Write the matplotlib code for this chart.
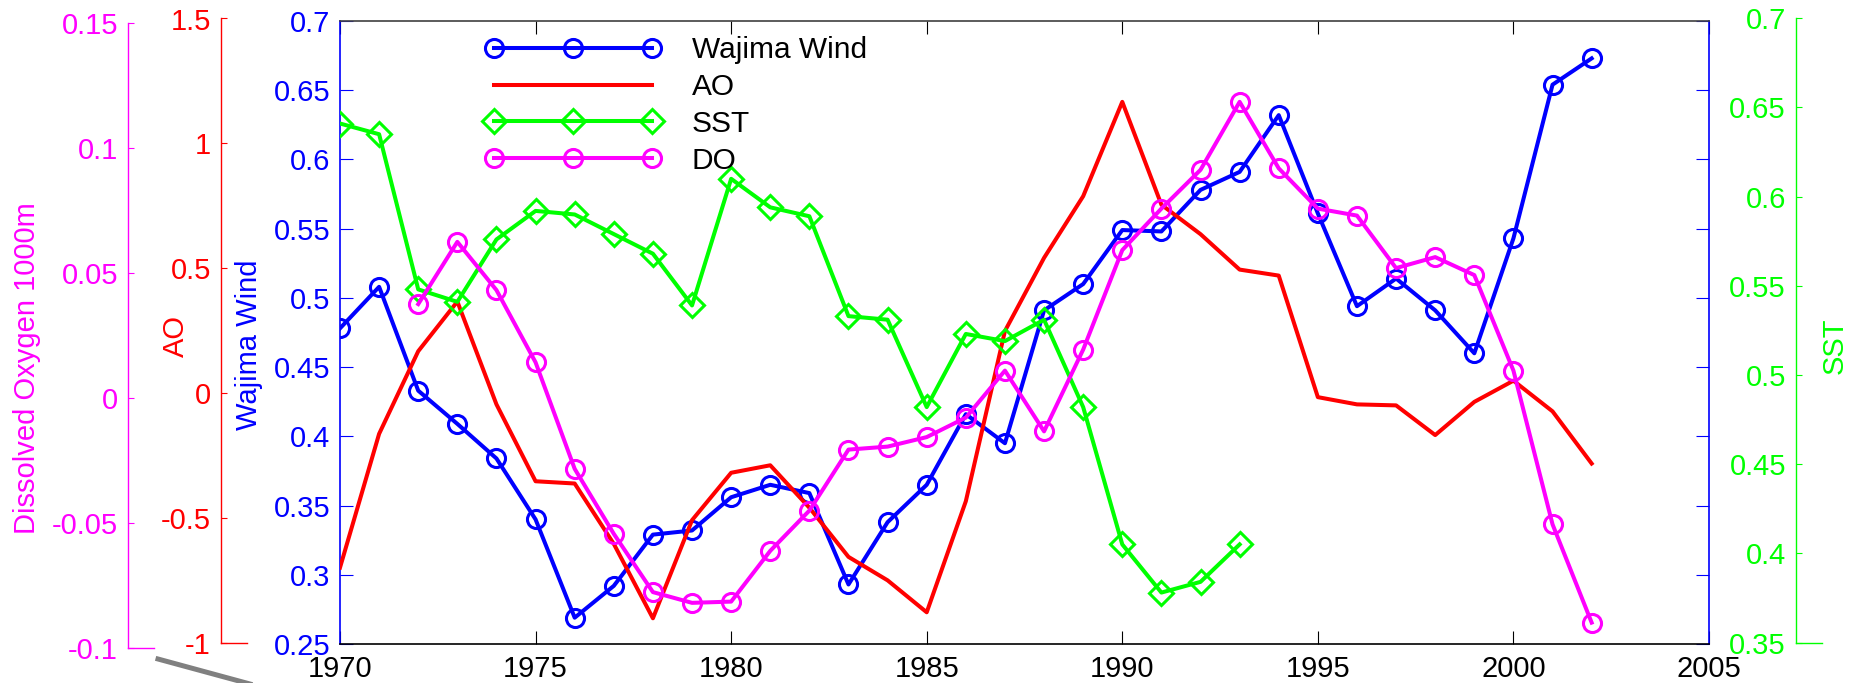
import numpy as np
import matplotlib
matplotlib.use("Agg")
import matplotlib.pyplot as plt
from matplotlib.lines import Line2D

plt.rcParams['font.family'] = ['Liberation Sans', 'DejaVu Sans']
plt.rcParams['font.size'] = 21

# yearly series
years = np.arange(1970, 2003)
wind = [0.478, 0.508, 0.433, 0.409, 0.384, 0.340, 0.269, 0.292, 0.329, 0.332,
        0.356, 0.365, 0.359, 0.293, 0.338, 0.365, 0.416, 0.395, 0.491, 0.510,
        0.549, 0.548, 0.578, 0.591, 0.632, 0.561, 0.494, 0.514, 0.491, 0.460,
        0.543, 0.654, 0.673]
ao = [-0.70, -0.164, 0.167, 0.366, -0.046, -0.354, -0.363, -0.605, -0.903, -0.51,
      -0.32, -0.29, -0.46, -0.657, -0.751, -0.879, -0.434, 0.248, 0.541, 0.788,
      1.166, 0.754, 0.636, 0.494, 0.47, -0.017, -0.046, -0.05, -0.169, -0.036,
      0.049, -0.074, -0.283]
sst_years = np.arange(1970, 1994)
sst = [0.641, 0.635, 0.548, 0.541, 0.576, 0.592, 0.590, 0.579, 0.568, 0.539,
       0.610, 0.594, 0.589, 0.533, 0.531, 0.482, 0.523, 0.519, 0.531, 0.482,
       0.405, 0.378, 0.384, 0.405]
do_years = np.arange(1972, 2003)
do = [0.0374, 0.0623, 0.0430, 0.0141, -0.0285, -0.0545, -0.0778, -0.0821, -0.0816,
      -0.0613, -0.0452, -0.0208, -0.0196, -0.0158, -0.0080, 0.0108, -0.0135, 0.0192,
      0.0590, 0.0756, 0.0911, 0.1183, 0.0917, 0.0756, 0.0728, 0.0518, 0.0562,
      0.0490, 0.0108, -0.0507, -0.0900]

xticks = np.arange(1970, 2006, 5)
wind_ticks = np.round(np.arange(0.25, 0.701, 0.05), 2)
ao_ticks = [-1, -0.5, 0, 0.5, 1, 1.5]
sst_ticks = np.round(np.arange(0.35, 0.701, 0.05), 2)
do_ticks = [-0.1, -0.05, 0, 0.05, 0.1, 0.15]

W, H = 1854, 683
fig = plt.figure(figsize=(W / 100, H / 100), dpi=100)


def box(x0, top, x1, bottom):
    # pixel box (from top-left) -> figure fraction rect
    return [x0 / W, 1 - bottom / H, (x1 - x0) / W, (bottom - top) / H]


LW = 2.9
MS = 13
MEW = 2.2

# main axes: Wajima wind
ax = fig.add_axes(box(340, 21, 1709, 644))
ax.set_xlim(1970, 2005)
ax.set_ylim(0.25, 0.7)
ax.set_xticks(xticks)
ax.set_yticks(wind_ticks)
ax.set_yticklabels([f"{t:g}" for t in wind_ticks])
ax.tick_params(axis='x', direction='in', length=9.4, top=True, pad=8, colors='black')
ax.tick_params(axis='y', direction='in', length=9.4, right=True, pad=7,
               colors='blue', labelcolor='blue')
for side in ('left', 'right'):
    ax.spines[side].set_color('blue')
ax.spines['top'].set_color('#404040')
ax.spines['bottom'].set_color('black')
for s in ax.spines.values():
    s.set_linewidth(1.2)
l_wind, = ax.plot(years, wind, color='blue', lw=LW, marker='o', ms=MS,
                  mfc='none', mew=MEW, label='Wajima Wind')


def ruler(x, top, bottom, color, lim, ticks):
    r = fig.add_axes(box(x, top, x + 26, bottom))
    r.patch.set_visible(False)
    r.set_ylim(*lim)
    r.set_yticks(ticks)
    r.set_yticklabels([f"{t:g}" for t in ticks])
    r.set_xticks([])
    for side in ('top', 'right'):
        r.spines[side].set_visible(False)
    for side in ('left', 'bottom'):
        r.spines[side].set_color(color)
        r.spines[side].set_linewidth(1.0)
    r.tick_params(axis='y', direction='in', length=4.3, pad=7,
                  colors=color, labelcolor=color)
    return r


def overlay(top, bottom, lim):
    o = fig.add_axes(box(340, top, 1709, bottom))
    o.set_xlim(1970, 2005)
    o.set_ylim(*lim)
    o.axis('off')
    return o


# AO
ruler(220.7, 18.5, 642.5, 'red', (-1, 1.5), ao_ticks)
ax_ao = overlay(18.5, 642.5, (-1, 1.5))
l_ao, = ax_ao.plot(years, ao, color='red', lw=LW, label='AO')

# SST
ruler(1795.7, 18.3, 642.5, '#00ff00', (0.35, 0.7), sst_ticks)
ax_sst = overlay(18.3, 642.5, (0.35, 0.7))
l_sst, = ax_sst.plot(sst_years, sst, color='#00ff00', lw=LW, marker='D', ms=12,
                     mfc='none', mew=MEW, label='SST')

# dissolved oxygen
ruler(127.7, 22.6, 647.6, 'magenta', (-0.1, 0.15), do_ticks)
ax_do = overlay(22.6, 647.6, (-0.1, 0.15))
l_do, = ax_do.plot(do_years, do, color='magenta', lw=LW, marker='o', ms=MS,
                   mfc='none', mew=MEW, label='DO')

# axis titles
fig.text(26.7 / W, 1 - 368 / H, 'Dissolved Oxygen 1000m', color='magenta',
         rotation=90, ha='center', va='center')
fig.text(176 / W, 1 - 336 / H, 'AO', color='red', rotation=90, ha='center', va='center')
fig.text(249 / W, 1 - 345 / H, 'Wajima Wind', color='blue', rotation=90,
         ha='center', va='center')
fig.text(1835 / W, 1 - 346 / H, 'SST', color='#00ff00', rotation=90,
         ha='center', va='center')

leg = ax_do.legend(handles=[l_wind, l_ao, l_sst, l_do], loc='upper left',
                   bbox_to_anchor=(485 / W, 1 - 36 / H), bbox_transform=fig.transFigure,
                   frameon=False, numpoints=3, handlelength=5.89, handletextpad=1.04,
                   borderpad=0, borderaxespad=0, labelspacing=0.3, fontsize=21.5)

# stray grey stroke at the lower left corner
fig.add_artist(Line2D([158 / W, 250 / W], [1 - 659 / H, 1 - 684 / H],
                      transform=fig.transFigure, color='#808080', lw=3.6))

fig.savefig('out.png', dpi=100)
